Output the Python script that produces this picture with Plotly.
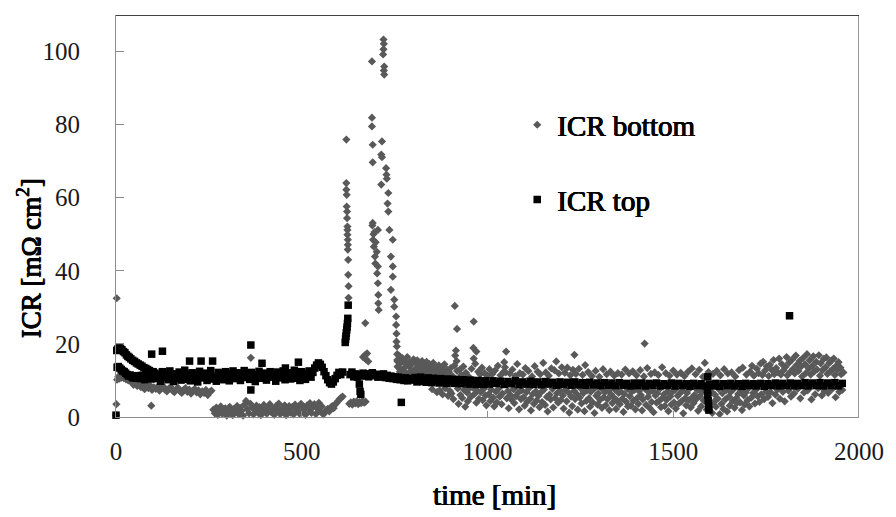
import plotly.graph_objects as go

# ---------------- ICR bottom (grey diamonds): (time [min], ICR [mOhm cm2]) ----------------
BOTTOM_START = [
    (0, 0.5), (1, 3.5), (2, 32.5), (3, 10.2), (6, 11.0), (9, 10.5), (12, 11.4), (15, 10.8),
    (18, 11.2), (21, 10.6), (24, 11.0), (27, 10.3), (30, 10.7), (33, 10.0), (36, 10.4), (39, 9.8),
    (42, 9.6), (47, 8.8), (52, 9.3), (57, 8.5), (62, 9.0), (67, 8.2), (72, 8.7), (77, 7.6),
    (82, 8.4), (87, 7.9), (92, 8.6), (95, 3.1), (97, 7.4), (102, 8.1), (107, 7.7), (112, 8.3),
    (117, 7.2), (122, 7.9), (127, 8.4), (132, 7.5), (137, 7.0), (142, 7.8), (147, 8.2), (152, 7.3),
    (157, 6.8), (162, 7.6), (167, 8.0), (172, 7.1), (177, 6.6), (182, 7.4), (187, 7.9), (192, 6.9),
    (197, 7.5), (202, 6.4), (207, 7.2), (212, 7.7), (217, 6.7), (222, 7.3), (227, 6.2), (232, 7.0),
    (237, 6.6), (242, 7.4), (247, 6.0), (252, 6.8), (257, 7.2),
]

BOTTOM_LOW = [
    (262, 2.0), (266, 1.0), (270, 2.6), (274, 0.6), (278, 1.8), (282, 2.9), (286, 0.9), (290, 1.5),
    (294, 2.4), (298, 0.4), (302, 1.9), (306, 2.8), (310, 1.1), (314, 0.5), (318, 2.2), (322, 1.4),
    (326, 3.0), (330, 0.8), (334, 2.5), (338, 1.7), (342, 0.4), (346, 3.4), (350, 4.4), (354, 2.1),
    (358, 1.0), (362, 3.6), (363, 16.2), (366, 2.6), (370, 0.7), (374, 1.9), (378, 3.1), (382, 1.2),
    (386, 2.7), (390, 0.5), (394, 2.0), (398, 3.3), (402, 1.5), (406, 0.9), (410, 2.6), (414, 3.5),
    (418, 1.3), (422, 2.2), (426, 0.6), (430, 2.9), (434, 1.8), (438, 3.7), (442, 0.8), (446, 2.4),
    (450, 1.4), (454, 3.2), (458, 0.5), (462, 2.1), (466, 3.0), (470, 1.2), (474, 2.7), (478, 0.7),
    (482, 3.4), (486, 1.9), (490, 2.5), (494, 0.9), (498, 3.6), (502, 1.6), (506, 2.8), (510, 0.6),
    (514, 3.1), (518, 2.0), (522, 3.8), (526, 1.1), (530, 2.6), (534, 3.5), (538, 0.8), (542, 2.3),
    (546, 3.9), (550, 1.5), (554, 2.9), (558, 0.7), (562, 1.2), (566, 1.8), (570, 2.2), (574, 1.5),
    (578, 2.6), (582, 3.0), (586, 2.4), (590, 3.4), (594, 3.9), (598, 4.4), (602, 4.9), (606, 5.3),
    (610, 5.6), (628, 3.6), (632, 4.0), (636, 3.4), (640, 4.2), (644, 3.7), (648, 4.3), (652, 3.5),
    (656, 4.1), (660, 3.8), (664, 4.4), (668, 3.9), (672, 4.2),
]

BOTTOM_PEAK = [
    (620, 75.9), (620, 64.0), (620, 62.2), (621, 60.8), (621, 57.6), (622, 56.2), (622, 54.4),
    (623, 52.1), (623, 51.2), (623, 49.9), (624, 48.5), (624, 47.1), (624, 45.8), (625, 43.0),
    (625, 38.9), (626, 35.8), (626, 32.6),
    (665, 16.4), (671, 25.7), (671, 17.0), (672, 15.8), (676, 17.4), (679, 15.2),
    (689, 97.3), (689, 81.9), (689, 79.5), (691, 74.5), (691, 69.7), (691, 53.1), (690, 52.4),
    (693, 50.0), (692, 48.5), (694, 46.6), (696, 50.6), (697, 43.9), (699, 47.8), (702, 45.2),
    (698, 42.0), (703, 39.3), (705, 51.2), (705, 41.2), (705, 36.6), (706, 33.4), (706, 31.1),
    (707, 29.3),
    (720, 103.3), (721, 102.1), (720, 100.6), (719, 99.2), (722, 95.9), (721, 94.8), (722, 93.7),
    (716, 75.4), (714, 71.8), (716, 71.1), (714, 63.6), (727, 68.1), (729, 65.2), (728, 66.3),
    (733, 61.3), (731, 58.4), (733, 56.2), (736, 51.2), (745, 48.5), (740, 43.9), (745, 41.2),
    (745, 38.4), (740, 34.8), (749, 32.1), (749, 30.2), (754, 27.5), (754, 25.2), (755, 22.8),
    (755, 20.6), (756, 19.3), (757, 17.2), (757, 15.6), (758, 13.8),
]

BOTTOM_CLOUD_EARLY = [
    (758, 15.2), (760, 13.6), (762, 16.8), (764, 12.4), (767, 14.9), (769, 11.8), (771, 16.1),
    (774, 13.2), (776, 15.6), (779, 12.1), (781, 14.3), (784, 16.4), (786, 11.5), (789, 13.8),
    (791, 15.0), (794, 12.7), (796, 14.6), (799, 11.9), (801, 15.8), (804, 13.1), (806, 12.3),
    (809, 14.7), (811, 15.5), (814, 11.6), (816, 13.5), (819, 14.9), (821, 12.6), (824, 15.3),
    (826, 13.9), (829, 11.4), (831, 14.2), (834, 12.8), (836, 15.1), (839, 13.3), (841, 11.8),
    (844, 14.5), (846, 12.2), (849, 13.7), (851, 7.6), (854, 14.8), (856, 12.9), (859, 11.3),
    (861, 13.6), (864, 6.8), (866, 12.4), (869, 14.1), (871, 7.3), (874, 11.7), (876, 13.2),
    (879, 6.2), (881, 12.6), (884, 14.4), (886, 7.9), (889, 11.9), (891, 13.0), (894, 5.8),
    (896, 12.3), (899, 7.1),
    (901, 13.4), (903, 6.4), (906, 11.2), (908, 4.9), (911, 14.1), (912, 30.4), (913, 16.8),
    (915, 18.2), (917, 15.3), (918, 24.1), (918, 12.6), (920, 7.8), (922, 3.6), (925, 12.9),
    (927, 6.0), (930, 11.5), (932, 5.2), (935, 13.8), (937, 7.4), (940, 2.8), (942, 12.1),
    (945, 6.7), (947, 4.3), (950, 11.0), (952, 7.9), (955, 5.5), (957, 13.2), (960, 8.1),
    (962, 18.9), (963, 26.1), (963, 16.0), (965, 6.3), (967, 14.6), (970, 17.9), (970, 3.9),
    (972, 7.2), (975, 12.4), (977, 5.0), (980, 11.7), (982, 6.8), (985, 13.5), (987, 4.6),
    (990, 7.7), (992, 12.0), (995, 5.9), (997, 3.2), (1000, 11.3),
]

BOTTOM_CLOUD_MID = [
    (1003, 6.2), (1005, 13.1), (1008, 4.4), (1010, 7.5), (1013, 11.8), (1015, 5.3), (1018, 2.9),
    (1020, 12.7), (1023, 6.9), (1025, 4.0), (1028, 14.0), (1030, 7.8), (1033, 5.6), (1035, 11.4),
    (1038, 3.5), (1040, 6.4), (1043, 12.3), (1045, 15.0), (1047, 13.6), (1049, 12.2), (1050, 17.9),
    (1052, 5.1), (1055, 7.1), (1057, 2.4), (1060, 11.9), (1062, 6.0), (1065, 4.7), (1067, 13.0),
    (1070, 7.6), (1072, 3.8), (1075, 11.2), (1077, 5.7), (1080, 14.5), (1082, 6.6), (1085, 2.1),
    (1087, 12.0), (1090, 4.9), (1092, 7.3), (1095, 11.6), (1097, 5.4), (1100, 3.1), (1102, 13.4),
    (1105, 6.8), (1107, 4.2), (1110, 12.6), (1112, 7.9), (1115, 5.0), (1117, 1.8), (1120, 11.1),
    (1122, 6.3), (1125, 3.6), (1127, 13.9), (1130, 7.0), (1132, 4.5), (1135, 12.4), (1137, 5.8),
    (1140, 2.7), (1142, 11.7), (1145, 6.9), (1147, 4.1), (1150, 14.8), (1152, 7.5), (1155, 3.3),
    (1157, 12.2), (1160, 5.5), (1162, 1.5), (1165, 11.3), (1167, 6.1), (1170, 4.8), (1172, 13.3),
    (1175, 7.7), (1177, 2.6), (1180, 12.8), (1182, 5.2), (1185, 15.2), (1187, 6.5), (1190, 3.9),
    (1192, 11.9), (1195, 7.2), (1197, 4.6), (1200, 13.6),
    (1203, 5.9), (1205, 2.3), (1208, 12.1), (1210, 7.4), (1213, 4.3), (1215, 13.5), (1218, 6.7),
    (1220, 1.2), (1223, 11.4), (1225, 5.6), (1228, 3.0), (1230, 12.9), (1233, 7.1), (1234, 17.0),
    (1236, 4.9), (1238, 11.8), (1241, 6.2), (1243, 2.0), (1246, 13.2), (1248, 5.3), (1251, 7.8),
    (1253, 3.7), (1256, 11.5), (1258, 6.5), (1261, 1.6), (1263, 14.2), (1266, 4.4), (1268, 7.3),
    (1271, 12.3), (1273, 5.1), (1276, 2.8), (1278, 6.9), (1281, 11.2), (1283, 4.0), (1286, 7.6),
    (1288, 1.1), (1291, 12.6), (1293, 5.8), (1296, 3.4), (1298, 6.4), (1301, 11.0), (1303, 4.7),
    (1306, 7.9), (1308, 2.5), (1311, 13.1), (1313, 5.4), (1316, 6.8), (1318, 3.2), (1321, 11.7),
    (1323, 4.9), (1326, 7.2), (1328, 1.9), (1331, 12.4), (1333, 6.1), (1336, 3.8), (1338, 5.5),
    (1341, 11.3), (1343, 7.5), (1346, 2.2), (1348, 4.6), (1351, 12.0), (1353, 6.6), (1356, 3.5),
    (1358, 7.0), (1361, 11.6), (1363, 5.0), (1366, 1.4), (1368, 6.3), (1371, 13.0), (1373, 4.2),
    (1376, 7.7), (1378, 2.9), (1381, 11.9), (1383, 5.7), (1386, 3.1), (1388, 6.9), (1391, 12.5),
    (1393, 4.5), (1396, 7.4), (1398, 2.1),
]

BOTTOM_CLOUD_LATE = [
    (1401, 11.4), (1403, 5.2), (1406, 3.6), (1408, 7.1), (1411, 12.8), (1413, 6.0), (1416, 1.8),
    (1418, 4.8), (1421, 11.1), (1423, 20.1), (1425, 7.6), (1427, 3.3), (1430, 13.4), (1432, 5.5),
    (1435, 6.7), (1437, 2.4), (1440, 11.8), (1442, 4.1), (1445, 7.3), (1447, 1.3), (1450, 12.2),
    (1452, 5.9), (1455, 3.9), (1457, 6.5), (1460, 11.5), (1462, 4.4), (1465, 7.8), (1467, 2.7),
    (1470, 13.6), (1472, 5.3), (1475, 6.2), (1477, 3.0), (1480, 12.0), (1482, 4.7), (1485, 7.0),
    (1487, 1.6), (1490, 11.3), (1492, 5.6), (1495, 3.4), (1497, 6.8), (1500, 12.7), (1502, 4.0),
    (1505, 7.5), (1507, 2.3), (1510, 11.6), (1512, 5.8), (1515, 3.7), (1517, 6.4), (1520, 12.1),
    (1522, 4.3), (1525, 7.2), (1527, 1.0), (1530, 11.2), (1532, 5.1), (1535, 3.2), (1537, 6.6),
    (1540, 12.4), (1542, 4.6), (1545, 7.9), (1547, 2.6), (1550, 13.3), (1552, 5.4), (1555, 3.8),
    (1557, 6.0), (1560, 11.7), (1562, 4.9), (1565, 7.4), (1567, 1.7), (1570, 12.9), (1572, 5.7),
    (1575, 2.9), (1577, 6.7), (1580, 11.0), (1582, 4.5), (1585, 14.8), (1587, 7.1), (1590, 2.0),
    (1592, 5.3), (1595, 12.3), (1597, 6.3), (1600, 3.5),
    (1602, 7.0), (1605, 1.1), (1607, 11.8), (1610, 4.2), (1612, 6.1), (1615, 2.8), (1617, 12.6),
    (1620, 5.0), (1622, 7.7), (1625, 0.8), (1627, 11.4), (1630, 3.6), (1632, 6.5), (1635, 2.2),
    (1637, 13.1), (1640, 4.8), (1642, 7.3), (1645, 1.5), (1647, 11.9), (1650, 5.6), (1652, 3.1),
    (1655, 6.9), (1657, 12.2), (1660, 4.4), (1662, 7.6), (1665, 2.5), (1667, 11.1), (1670, 5.2),
    (1672, 3.9), (1675, 6.3), (1677, 12.8), (1680, 4.0), (1682, 7.1), (1685, 1.9), (1687, 13.5),
    (1690, 5.9), (1692, 3.4), (1695, 6.7), (1697, 11.6), (1700, 4.6), (1702, 7.8), (1705, 2.9),
    (1707, 12.4), (1710, 5.3), (1712, 14.0), (1715, 6.6), (1717, 11.3), (1720, 3.7), (1722, 7.4),
    (1725, 13.2), (1727, 5.7), (1730, 12.0), (1732, 4.1), (1735, 14.6), (1737, 6.2), (1740, 11.5),
    (1742, 15.1), (1745, 4.9), (1747, 12.7), (1750, 7.0), (1752, 13.8), (1755, 5.5), (1757, 11.2),
    (1760, 14.3), (1762, 6.8), (1765, 12.9), (1767, 3.8), (1770, 15.6), (1772, 11.7), (1775, 6.1),
    (1777, 13.4), (1780, 7.5), (1782, 12.2), (1785, 16.0), (1787, 5.0), (1790, 11.6), (1792, 14.5),
    (1795, 6.9), (1797, 12.8), (1800, 4.3),
    (1802, 13.7), (1805, 16.4), (1807, 11.4), (1810, 7.2), (1812, 14.9), (1815, 12.3), (1817, 5.6),
    (1820, 15.7), (1822, 13.1), (1825, 6.4), (1827, 11.9), (1830, 16.8), (1832, 14.2), (1835, 7.7),
    (1837, 12.6), (1840, 15.3), (1842, 5.1), (1845, 13.9), (1847, 11.1), (1850, 16.2), (1852, 6.7),
    (1855, 14.4), (1857, 12.0), (1860, 17.2), (1862, 7.3), (1865, 13.3), (1867, 15.5), (1870, 11.6),
    (1872, 4.8), (1875, 14.0), (1877, 16.6), (1880, 12.5), (1882, 6.2), (1885, 15.1), (1887, 13.0),
    (1890, 7.9), (1892, 16.9), (1895, 11.3), (1897, 14.7), (1900, 5.9), (1902, 12.8), (1905, 15.9),
    (1907, 7.1), (1910, 13.6), (1912, 16.3), (1915, 11.8), (1917, 6.6), (1920, 14.8), (1922, 12.4),
    (1925, 15.4), (1927, 7.6), (1930, 13.2), (1932, 16.0), (1935, 11.5), (1937, 5.4), (1940, 14.1),
    (1942, 12.9), (1945, 15.0), (1947, 6.9), (1950, 13.5), (1952, 11.7), (1955, 7.4), (1958, 12.2),
]

# ---------------- ICR top (black squares) ----------------
TOP_START = [
    (0, 0.5), (2, 18.2), (5, 18.6), (8, 18.9), (12, 18.8), (16, 18.4), (20, 17.9), (24, 17.6),
    (28, 17.0), (32, 16.6), (36, 16.3), (40, 15.9), (45, 15.5), (50, 15.2), (55, 14.8), (60, 14.5),
    (65, 14.2), (70, 13.9), (75, 13.5), (80, 13.3), (85, 13.0), (90, 12.7), (100, 12.4),
    (3, 13.6), (6, 13.8), (10, 13.4), (14, 13.0), (18, 12.6), (22, 12.4), (26, 12.0), (30, 11.6),
    (34, 11.2), (38, 11.5), (42, 11.0), (46, 10.7), (50, 11.2), (54, 10.6), (58, 11.3), (62, 10.8),
    (66, 10.5), (70, 11.4), (74, 10.9), (78, 10.2), (82, 11.0), (86, 10.6), (90, 11.3), (94, 10.4),
    (98, 11.0),
]

TOP_BAND = [
    (105, 12.0), (110, 10.5), (115, 11.6), (120, 9.8), (125, 12.4), (130, 10.9), (135, 11.9),
    (140, 10.2), (145, 12.6), (150, 11.0), (155, 9.7), (160, 11.8), (165, 10.6), (170, 12.3),
    (175, 10.1), (180, 11.4), (185, 12.8), (190, 10.3), (195, 11.7), (200, 9.9), (205, 12.1),
    (210, 10.8), (215, 11.5), (220, 9.6), (225, 12.5), (230, 10.7), (235, 11.3), (240, 12.0),
    (245, 10.0), (250, 11.6), (255, 12.7), (260, 10.4), (265, 11.1), (270, 9.8), (275, 12.2),
    (280, 10.9), (285, 11.7), (290, 10.2), (295, 12.4), (300, 11.0), (305, 9.9), (310, 11.8),
    (315, 12.6), (320, 10.5), (325, 11.2), (330, 12.1), (335, 10.0), (340, 11.5), (345, 12.7),
    (350, 10.8), (355, 11.9), (360, 10.3), (365, 12.2), (370, 11.0), (375, 9.7), (380, 11.6),
    (385, 12.5), (390, 10.6), (395, 11.3), (400, 12.0), (405, 10.1), (410, 11.7), (415, 12.4),
    (420, 10.9), (425, 11.4), (430, 9.8), (435, 12.3), (440, 10.7), (445, 11.8), (450, 12.6),
    (455, 10.2), (460, 11.5), (465, 12.1), (470, 10.4), (475, 11.2), (480, 12.8), (485, 10.6),
    (490, 11.9), (495, 10.0), (500, 12.4), (505, 11.1), (510, 10.3), (515, 11.8), (520, 12.6),
    (525, 10.9), (530, 12.2), (535, 13.4), (540, 14.2), (545, 14.8), (550, 14.4), (555, 13.6),
    (560, 12.4), (565, 11.3), (570, 10.2), (575, 9.4), (580, 9.0), (585, 9.6), (590, 10.5),
    (595, 11.4), (600, 12.2), (605, 11.6), (610, 12.3),
]

TOP_SPIKE = [
    (617, 20.4), (618, 21.3), (619, 22.1), (620, 23.0), (621, 23.8), (622, 24.6), (623, 25.6),
    (624, 27.0), (625, 30.6),
]

TOP_AFTER = [
    (630, 11.6), (635, 12.3), (640, 11.0), (645, 11.8), (650, 10.9), (655, 9.0), (657, 7.0),
    (659, 6.2), (660, 11.5), (665, 12.0), (670, 11.2), (675, 11.8), (680, 11.0), (685, 11.6),
    (690, 12.1), (695, 11.3), (700, 11.7), (705, 10.9), (710, 11.5), (715, 11.1), (720, 11.8),
    (725, 10.8), (730, 11.4), (735, 10.6), (740, 11.2), (745, 10.5), (750, 11.0), (755, 10.3),
    (760, 10.9), (765, 10.2), (770, 10.6), (775, 10.0), (780, 10.7), (785, 9.9), (790, 10.5),
    (795, 10.1), (800, 10.4),
]

TOP_LATE = [
    (805, 10.8), (810, 9.6), (815, 10.2), (820, 10.9), (825, 9.7), (830, 10.4), (835, 9.5),
    (840, 10.7), (845, 10.0), (850, 9.4), (855, 10.6), (860, 9.8), (865, 10.3), (870, 9.3),
    (875, 10.5), (880, 9.9), (885, 10.2), (890, 9.2), (895, 10.4), (900, 9.7), (905, 10.1),
    (910, 9.2), (915, 10.3), (920, 9.6), (925, 10.0), (930, 9.1), (935, 10.2), (940, 9.5),
    (945, 9.9), (950, 9.0), (955, 10.1), (960, 9.4), (965, 9.8), (970, 8.9), (975, 10.0),
    (980, 9.3), (985, 9.7), (990, 8.9), (995, 9.9), (1005, 9.0), (1015, 9.9), (1025, 9.2),
    (1035, 9.8), (1045, 8.9), (1055, 9.7), (1065, 9.1), (1075, 9.9), (1085, 8.8), (1095, 9.6),
    (1105, 9.0), (1115, 9.8), (1125, 8.9), (1135, 9.6), (1145, 8.8), (1155, 9.7), (1165, 9.0),
    (1175, 9.5), (1185, 8.7), (1195, 9.6), (1205, 8.9), (1215, 9.5), (1225, 8.7), (1235, 9.6),
    (1245, 8.8), (1255, 9.4), (1265, 8.7), (1275, 9.5), (1285, 8.8), (1295, 9.3), (1305, 8.6),
    (1315, 9.4), (1325, 8.7), (1335, 9.3), (1345, 8.6), (1355, 9.4), (1365, 8.7), (1375, 9.2),
    (1385, 8.5), (1395, 9.3), (1405, 8.6), (1415, 9.3), (1425, 8.5), (1435, 9.2), (1445, 8.7),
    (1455, 9.3), (1465, 8.5), (1475, 9.1), (1485, 8.6), (1495, 9.3), (1505, 8.5), (1515, 9.2),
    (1525, 8.6), (1535, 9.1), (1545, 8.4), (1555, 9.2), (1565, 8.6), (1575, 9.1), (1585, 8.5),
    (1592, 7.6), (1593, 11.0), (1593, 6.0), (1594, 4.4), (1595, 3.0), (1596, 1.9), (1597, 9.0),
    (1605, 8.5), (1615, 9.2), (1625, 8.4), (1635, 9.1), (1645, 8.6), (1655, 9.2), (1665, 8.5),
    (1675, 9.1), (1685, 8.4), (1695, 9.2), (1705, 8.6), (1715, 9.1), (1725, 8.5), (1735, 9.2),
    (1745, 8.4), (1755, 9.1), (1765, 8.6), (1775, 9.3), (1785, 8.5), (1795, 9.2), (1805, 8.6),
    (1815, 9.3), (1825, 8.5), (1835, 9.2), (1845, 8.6), (1855, 9.4), (1865, 8.5), (1875, 9.3),
    (1885, 8.6), (1895, 9.4), (1905, 8.5), (1915, 9.3), (1925, 8.6), (1935, 9.4), (1945, 8.5),
    (1955, 9.2),
]

TOP_OUTLIERS = [
    (96, 17.2), (125, 18.0), (198, 15.3), (229, 15.3), (260, 15.3), (363, 19.7), (363, 7.4),
    (393, 14.7), (456, 13.4), (491, 15.0), (768, 4.0), (1813, 27.7),
]

X_TICKS = [0, 500, 1000, 1500, 2000]
Y_TICKS = [0, 20, 40, 60, 80, 100]
X_RANGE = [0, 2000]
Y_RANGE = [0, 110]

SERIF = "Liberation Serif"
GREY = "#595959"
# heavier strokes for the title and legend lettering
HEAVY = "0.55px 0 0 #000, -0.45px 0 0 #000, 0 0.35px 0 #000"


def unzip(*segments):
    pts = [p for seg in segments for p in seg]
    return [p[0] for p in pts], [p[1] for p in pts]


bt, bv = unzip(BOTTOM_START, BOTTOM_LOW, BOTTOM_PEAK, BOTTOM_CLOUD_EARLY,
               BOTTOM_CLOUD_MID, BOTTOM_CLOUD_LATE)
tt, tv = unzip(TOP_START, TOP_BAND, TOP_SPIKE, TOP_AFTER, TOP_LATE, TOP_OUTLIERS)

fig = go.Figure()
fig.add_trace(go.Scatter(
    x=bt, y=bv, mode="markers", name="ICR bottom", legendgroup="b",
    marker=dict(symbol="diamond", size=6.3, color=GREY, line=dict(width=0)),
    cliponaxis=False,
))
fig.add_trace(go.Scatter(
    x=tt, y=tv, mode="markers", name="ICR top", legendgroup="t",
    marker=dict(symbol="square", size=7.5, color="#000000", line=dict(width=0)),
    cliponaxis=False,
))

axis_common = dict(
    showgrid=False, zeroline=False, showline=True, linecolor="#8c8c8c", linewidth=1,
    ticks="inside", tickcolor="#8c8c8c", tickwidth=1,
    tickfont=dict(family=SERIF, size=25, color="#1a1a1a"),
)
fig.update_xaxes(range=X_RANGE, tickvals=X_TICKS, ticklen=6, ticklabelstandoff=12, **axis_common)
fig.update_yaxes(range=Y_RANGE, tickvals=Y_TICKS, ticklen=8, ticklabelstandoff=30, **axis_common)

# plot-area frame: dark top and right edges
fig.add_shape(type="line", xref="x", yref="y", x0=X_RANGE[0], x1=X_RANGE[1],
              y0=Y_RANGE[1], y1=Y_RANGE[1], line=dict(color="#000000", width=1.5))
fig.add_shape(type="line", xref="x", yref="y", x0=X_RANGE[1], x1=X_RANGE[1],
              y0=Y_RANGE[0], y1=Y_RANGE[1], line=dict(color="#333333", width=1))

fig.add_annotation(text="time [min]", xref="paper", yref="paper", x=0.509, y=-0.194,
                   xanchor="center", yanchor="middle", showarrow=False,
                   font=dict(family=SERIF, size=29, color="#000000", shadow=HEAVY))
fig.add_annotation(text="ICR [mΩ cm<sup>2</sup>]", xref="paper", yref="paper",
                   x=-0.117, y=0.395, xanchor="center", yanchor="middle", textangle=-90,
                   showarrow=False,
                   font=dict(family=SERIF, size=27, color="#000000", shadow=HEAVY))

fig.update_layout(
    width=896, height=517,
    margin=dict(l=116, r=31, t=15, b=100),
    paper_bgcolor="white", plot_bgcolor="white",
    showlegend=True,
    legend=dict(
        x=0.540, y=0.79, xanchor="left", yanchor="top",
        bgcolor="rgba(0,0,0,0)", borderwidth=0,
        traceorder="grouped", tracegroupgap=34,
        font=dict(family=SERIF, size=29, color="#000000", shadow=HEAVY),
    ),
)

fig.write_html("out.html")
